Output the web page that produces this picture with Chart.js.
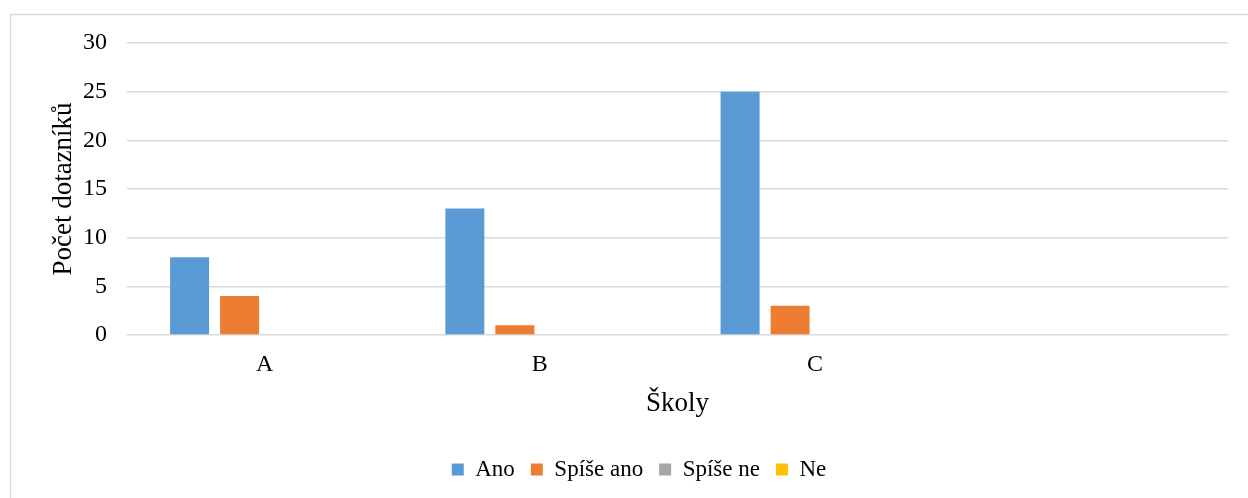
<!DOCTYPE html>
<html>
<head>
<meta charset="utf-8">
<script src="https://cdn.jsdelivr.net/npm/chart.js@4/dist/chart.umd.min.js"></script>
<style>
  html, body { margin: 0; padding: 0; background: #fff; }
  #wrap { width: 1248px; height: 498px; position: relative; }
</style>
</head>
<body>
<div id="wrap"><canvas id="c" width="1248" height="498"></canvas></div>
<script>
// Schools (the fourth slot is left empty)
const categories = ['A', 'B', 'C', ''];
// Answers per school
const ano = [8, 13, 25, null];
const spiseAno = [4, 1, 3, null];
const spiseNe = [0, 0, 0, null];
const ne = [0, 0, 0, null];

const seriesNames = ['Ano', 'Spíše ano', 'Spíše ne', 'Ne'];
const seriesColors = ['#5b9bd5', '#ed7d31', '#a5a5a5', '#ffc000'];

const serif = "'Liberation Serif', 'Times New Roman', serif";

// light frame around the whole chart; the legend is centred on the full frame
const framePlugin = {
  id: 'frame',
  afterLayout(chart) {
    const lg = chart.legend;
    if (lg) { lg.left += 20; lg.right += 20; }
  },
  beforeDraw(chart) {
    const ctx = chart.ctx;
    ctx.save();
    ctx.fillStyle = '#ffffff';
    ctx.fillRect(0, 0, chart.width, chart.height);
    ctx.strokeStyle = '#d9d9d9';
    ctx.lineWidth = 1.5;
    ctx.strokeRect(10.5, 14.5, 1400, 600);
    ctx.restore();
  }
};

new Chart(document.getElementById('c'), {
  type: 'bar',
  data: {
    labels: categories,
    datasets: [ano, spiseAno, spiseNe, ne].map((d, i) => ({
      label: seriesNames[i],
      data: d,
      backgroundColor: seriesColors[i],
      borderWidth: 0,
      categoryPercentage: 0.727,
      barPercentage: 0.78
    }))
  },
  options: {
    responsive: false,
    animation: false,
    devicePixelRatio: 1,
    layout: { padding: { left: 10, right: 20, top: 43, bottom: 7 } },
    plugins: {
      tooltip: { enabled: false },
      legend: {
        position: 'bottom',
        labels: {
          boxWidth: 12,
          boxHeight: 12,
          padding: 16,
          color: '#000',
          font: { family: serif, size: 23 }
        }
      }
    },
    scales: {
      x: {
        grid: { display: false, drawTicks: false },
        border: { display: false },
        ticks: { color: '#000', font: { family: serif, size: 24 }, padding: 15 },
        title: {
          display: true,
          text: 'Školy',
          color: '#000',
          font: { family: serif, size: 27 },
          padding: { top: 0, bottom: 22 }
        },
        afterFit(scale) { scale.height = 107; }
      },
      y: {
        min: 0,
        max: 30,
        ticks: { stepSize: 5, color: '#000', font: { family: serif, size: 24 }, padding: 20 },
        grid: { color: '#d9d9d9', lineWidth: 1.5, drawTicks: false },
        border: { display: false },
        title: {
          display: true,
          text: 'Počet dotazníků',
          color: '#000',
          font: { family: serif, size: 27 },
          padding: { top: 38, bottom: 0 }
        },
        afterFit(scale) { scale.width = 117; }
      }
    }
  },
  plugins: [framePlugin]
});
</script>
</body>
</html>
